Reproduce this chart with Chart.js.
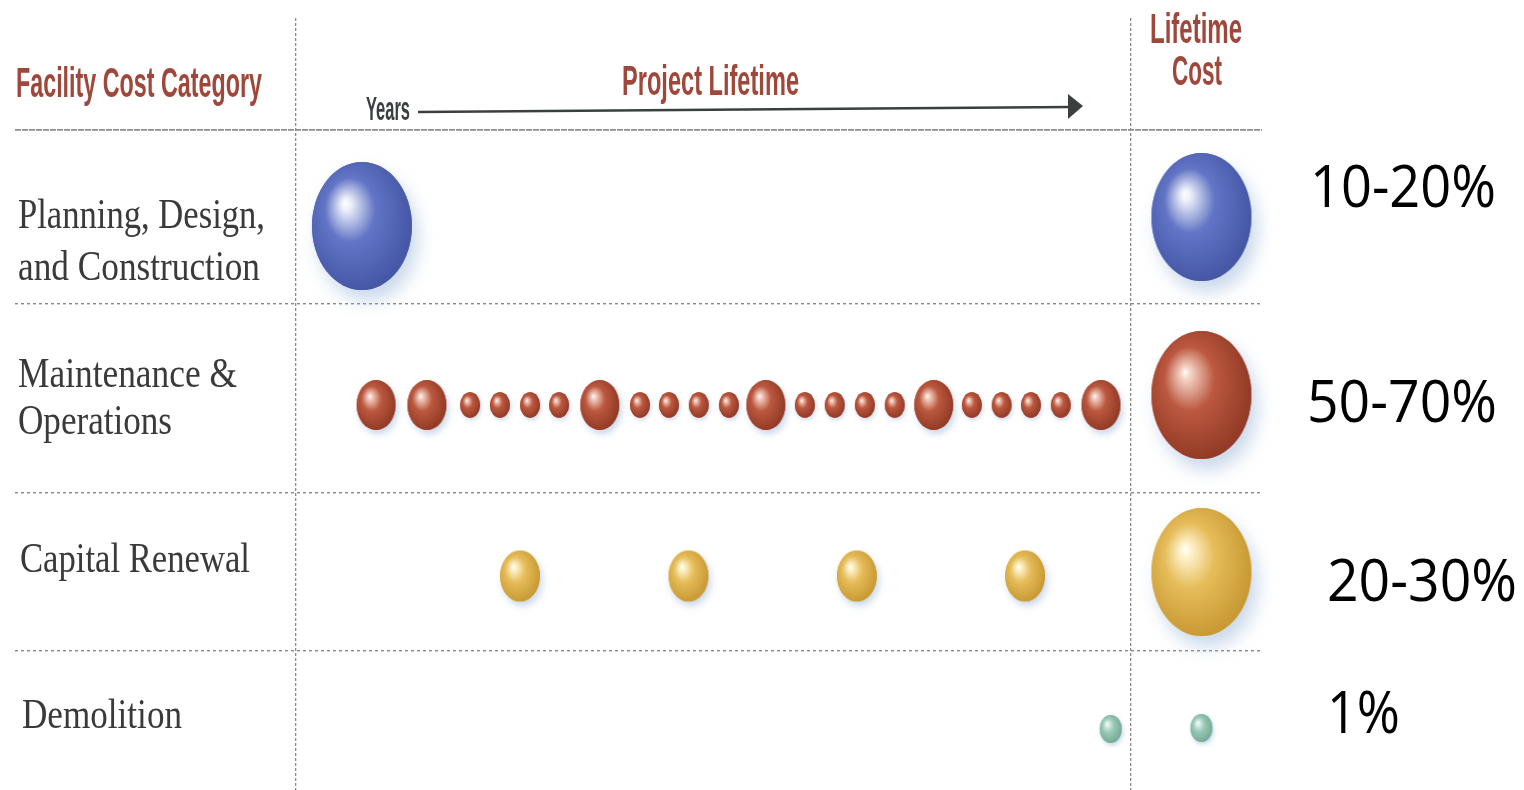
<!DOCTYPE html>
<html><head><meta charset="utf-8">
<script src="https://cdn.jsdelivr.net/npm/chart.js@4.4.1/dist/chart.umd.min.js"></script>
<style>html,body{margin:0;padding:0;background:#fff;}canvas{display:block;}</style>
</head><body>
<canvas id="c" width="1524" height="790"></canvas>
<script>
// ---------------- data ----------------
const CATEGORIES = [['Planning, Design,', 'and Construction'], ['Maintenance &', 'Operations'], ['Capital Renewal'], ['Demolition']];
// year of each cost event along the project lifetime, and its relative size
const PLANNING_YEARS = [2.24];
const PLANNING_COST = [100];
const MAINT_YEARS = [2.72, 4.44, 5.90, 6.91, 7.93, 8.91, 10.29, 11.65, 12.63, 13.64, 14.66, 15.91, 17.23, 18.24, 19.26, 20.27, 21.59, 22.88, 23.89, 24.88, 25.89, 27.25];
const MAINT_COST = [39, 39, 20, 20, 20, 20, 39, 20, 20, 20, 20, 39, 20, 20, 20, 20, 39, 20, 20, 20, 20, 39];
const RENEWAL_YEARS = [7.59, 13.29, 18.99, 24.68];
const RENEWAL_COST = [40, 40, 40, 40];
const DEMOLITION_YEARS = [27.58];
const DEMOLITION_COST = [22];
// lifetime totals column
const LIFETIME_X = 30.65;
const LIFETIME_COST = [100, 100, 100, 22];
const LIFETIME_SHARE = ['10-20%', '50-70%', '20-30%', '1%'];
// row positions (row units, top to bottom)
const ROW_Y = [0.96, 2.75, 4.46, 5.99];
const LIFETIME_Y = [0.87, 2.65, 4.42, 5.98];
const ROW_EDGES = [0, 1.74, 3.63, 5.21];
const COLUMN_DIVIDERS = [0, 28.27];
const HEADERS = ['Facility Cost Category', 'Project Lifetime', 'Years', 'Lifetime', 'Cost'];

// ---------------- styles ----------------
const TONES = [
  { hi: '#eef1fb', mid: '#6275c6', edge: '#4657a6' },
  { hi: '#f6d6c8', mid: '#bc5840', edge: '#933b26' },
  { hi: '#fff6d4', mid: '#e6bd5a', edge: '#c99a34' },
  { hi: '#e8f5ef', mid: '#9bcab9', edge: '#76aa97' }
];
const ASPECT = 1.28;
const spriteCache = {};
function sprite(tone, r) {
  const key = tone + '_' + r;
  if (spriteCache[key]) return spriteCache[key];
  const t = TONES[tone];
  const pad = Math.ceil(r * 0.45) + 4;
  const c = document.createElement('canvas');
  c.width = Math.round(2 * r + 2 * pad);
  c.height = Math.round(2 * r * ASPECT + 2 * pad);
  const g = c.getContext('2d');
  g.translate(c.width / 2, c.height / 2);
  g.scale(1, ASPECT);
  // soft bluish shadow
  g.save();
  g.shadowColor = 'rgba(150,180,215,0.5)';
  g.shadowBlur = Math.max(4, r * 0.35);
  g.shadowOffsetX = r * 0.12;
  g.shadowOffsetY = r * 0.22;
  g.beginPath(); g.arc(0, 0, r, 0, Math.PI * 2);
  g.fillStyle = t.mid; g.fill();
  g.restore();
  const grad = g.createRadialGradient(-0.33 * r, -0.36 * r, 0, -0.12 * r, -0.12 * r, 1.12 * r);
  grad.addColorStop(0, '#ffffff');
  grad.addColorStop(0.08, t.hi);
  grad.addColorStop(0.45, t.mid);
  grad.addColorStop(1, t.edge);
  g.beginPath(); g.arc(0, 0, r, 0, Math.PI * 2);
  g.fillStyle = grad; g.fill();
  spriteCache[key] = c;
  return c;
}

function series(years, cost, y) {
  return years.map((x, i) => ({ x: x, y: y, r: cost[i] / 2 }));
}
const groups = [
  [PLANNING_YEARS, PLANNING_COST],
  [MAINT_YEARS, MAINT_COST],
  [RENEWAL_YEARS, RENEWAL_COST],
  [DEMOLITION_YEARS, DEMOLITION_COST]
];
const datasets = groups.map((gp, i) => ({
  label: CATEGORIES[i].join(' '),
  tone: i,
  clip: false,
  data: series(gp[0], gp[1], ROW_Y[i]).concat([{ x: LIFETIME_X, y: LIFETIME_Y[i], r: LIFETIME_COST[i] / 2, share: LIFETIME_SHARE[i] }])
}));

function fitText(ctx, text, left, baseline, width, font, color) {
  ctx.save();
  ctx.font = font; ctx.fillStyle = color;
  ctx.textAlign = 'left'; ctx.textBaseline = 'alphabetic';
  const w = ctx.measureText(text).width;
  ctx.translate(left, baseline);
  ctx.scale(width / w, 1);
  ctx.fillText(text, 0, 0);
  ctx.restore();
}

const TITLE_FONT = "bold 42px 'Liberation Sans Narrow', 'Liberation Sans', sans-serif";
const TITLE_COLOR = '#a0473b';
const LABEL_FONT = "42px 'Liberation Serif', 'DejaVu Serif', serif";
const LABEL_COLOR = '#3a3a3a';
const SHARE_FONT = "59px 'Open Sans', 'Liberation Sans', sans-serif";

const decor = {
  id: 'decor',
  afterDraw(chart) {
    const ctx = chart.ctx;
    // header titles
    fitText(ctx, HEADERS[0], 16, 97, 246, TITLE_FONT, TITLE_COLOR);
    fitText(ctx, HEADERS[1], 622, 95, 177, TITLE_FONT, TITLE_COLOR);
    fitText(ctx, HEADERS[2], 366, 120, 44, "bold 34px 'Liberation Sans Narrow', 'Liberation Sans', sans-serif", '#3b3f40');
    fitText(ctx, HEADERS[3], 1150, 43, 92, TITLE_FONT, TITLE_COLOR);
    fitText(ctx, HEADERS[4], 1172, 85, 50, TITLE_FONT, TITLE_COLOR);
    // Years arrow
    ctx.save();
    ctx.strokeStyle = '#3b3f40'; ctx.fillStyle = '#3b3f40'; ctx.lineWidth = 2.5;
    ctx.beginPath(); ctx.moveTo(418, 112); ctx.lineTo(1070, 107); ctx.stroke();
    ctx.beginPath(); ctx.moveTo(1083, 106); ctx.lineTo(1068, 94); ctx.lineTo(1068, 119); ctx.closePath(); ctx.fill();
    ctx.restore();
    // category labels
    const lab = [
      { left: 18, base: [228, 280], w: [247, 242] },
      { left: 18, base: [387, 434], w: [219, 154] },
      { left: 20, base: [572], w: [230] },
      { left: 22, base: [728], w: [160] }
    ];
    CATEGORIES.forEach((lines, i) => {
      lines.forEach((t, j) => fitText(ctx, t, lab[i].left, lab[i].base[j], lab[i].w[j], LABEL_FONT, LABEL_COLOR));
    });
    // lifetime share labels
    const sh = [
      { left: 1310, base: 207, w: 186 },
      { left: 1307, base: 422, w: 190 },
      { left: 1327, base: 601, w: 190 },
      { left: 1327, base: 733, w: 73 }
    ];
    LIFETIME_SHARE.forEach((t, i) => fitText(ctx, t, sh[i].left, sh[i].base, sh[i].w, SHARE_FONT, '#000'));
  }
};

new Chart(document.getElementById('c'), {
  type: 'bubble',
  data: { datasets: datasets },
  options: {
    responsive: false,
    animation: false,
    events: [],
    layout: { autoPadding: false, padding: { left: 15, right: 262, top: 18, bottom: 0 } },
    elements: {
      point: {
        pointStyle: (c) => (c.raw ? sprite(c.dataset.tone, c.raw.r) : 'circle'),
        borderWidth: 0
      }
    },
    plugins: { legend: { display: false }, tooltip: { enabled: false } },
    scales: {
      x: {
        type: 'linear', min: -9.5, max: 32.7,
        afterBuildTicks: (s) => { s.ticks = COLUMN_DIVIDERS.map(v => ({ value: v })); },
        afterFit: (s) => { s.height = 0; },
        ticks: { display: false },
        grid: { drawTicks: false, color: '#8a8a8a', lineWidth: 1.3, borderDash: [3, 2] },
        border: { display: false, dash: [3, 2] }
      },
      y: {
        type: 'linear', reverse: true, min: -1.12, max: 6.6,
        afterBuildTicks: (s) => { s.ticks = ROW_EDGES.map(v => ({ value: v })); },
        afterFit: (s) => { s.width = 0; },
        ticks: { display: false },
        grid: {
          drawTicks: false,
          color: (c) => (c.tick && c.tick.value === 0 ? '#8f8f8f' : '#8a8a8a'),
          lineWidth: (c) => (c.tick && c.tick.value === 0 ? 1.8 : 1.4),
          borderDash: (c) => (c.tick && c.tick.value === 0 ? [6, 1] : [3, 3])
        },
        border: { display: false, dash: (c) => (c.tick && c.tick.value === 0 ? [6, 1] : [3, 3]) }
      }
    }
  },
  plugins: [decor]
});
</script>
</body></html>
